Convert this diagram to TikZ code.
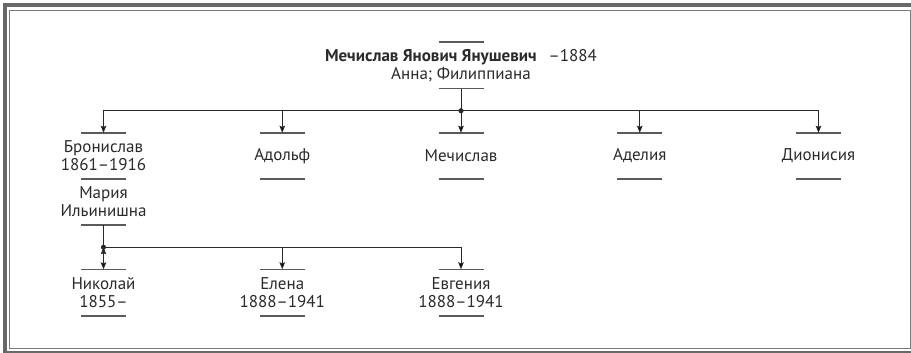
\documentclass[tikz,border=0pt]{standalone}
\usepackage{fontspec}
\setmainfont{PT Sans}
\usetikzlibrary{positioning,calc,arrows.meta}
\definecolor{framegray}{HTML}{686868}
\definecolor{linegray}{HTML}{7A7A7A}
\definecolor{bargray}{HTML}{5A5A5A}
\definecolor{inkgray}{HTML}{2A2A2A}
\tikzset{
  bar/.style={draw=bargray,line width=1.6pt},
  person/.style={inner sep=0pt,minimum height=46pt,align=center,text=inkgray,
    font=\fontsize{17}{18}\selectfont,
    append after command={
      ([xshift=-22.5pt]\tikzlastnode.north) edge[bar] ([xshift=22.5pt]\tikzlastnode.north)
      ([xshift=-22.5pt]\tikzlastnode.south) edge[bar] ([xshift=22.5pt]\tikzlastnode.south)}},
  link/.style={draw=inkgray,line width=0.9pt},
  elbow/.style={to path={-| (\tikztotarget)}}
}
\begin{document}
\begin{tikzpicture}[x=1pt,y=1pt,node distance=90.5pt and 178.75pt,on grid]
\useasboundingbox (0,0) rectangle (911,-353);
% frame
\draw[framegray,line width=3.6pt] (4.7,-5) rectangle (916,-352.4);
\draw[linegray,line width=1pt] (9.8,-10.2) rectangle (910,-348);
% first generation
\node[person] (top) at (461,-65.5) {\textbf{Мечислав Янович Янушевич}\hspace{12pt}–1884\\Анна; Филиппиана};
\node[person] (mech) [below=of top] {Мечислав};
\node[person] (adolf) [left=of mech] {Адольф};
\node[person] (bron) [left=of adolf] {Бронислав\\1861–1916};
\node[person] (adel) [right=of mech] {Аделия};
\node[person] (dion) [right=of adel] {Дионисия};
\node[person] (maria) [below=46pt of bron] {Мария\\Ильинишна};
% second generation
\node[person] (nik) [below=of maria] {Николай\\1855–};
\node[person] (elena) [right=of nik] {Елена\\1888–1941};
\node[person] (evg) [right=of elena] {Евгения\\1888–1941};
\coordinate (fam1) at ($(top.south)!.5!(mech.north)$);
\coordinate (fam2) at ($(maria.south)!.5!(nik.north)$);
\draw[link] (top) -- (fam1);
\draw[link] (maria) -- (fam2);
\fill[inkgray] (fam1) circle[radius=2.6pt];
\fill[inkgray] (fam2) circle[radius=2.6pt];
\path[link,-{Stealth[length=7pt,width=5.5pt,inset=1pt]}]
  (fam1) edge[elbow] (bron)
  (fam1) edge[elbow] (adolf)
  (fam1) edge (mech)
  (fam1) edge[elbow] (adel)
  (fam1) edge[elbow] (dion)
  (fam2) edge (nik)
  (fam2) edge[elbow] (elena)
  (fam2) edge[elbow] (evg);
\end{tikzpicture}
\end{document}
